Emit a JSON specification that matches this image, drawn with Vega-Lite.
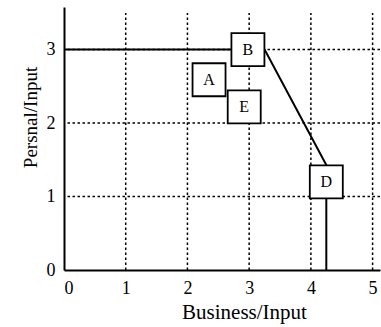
{
  "$schema": "https://vega.github.io/schema/vega-lite/v6.json",
  "width": 316,
  "height": 263,
  "autosize": {"type": "none"},
  "padding": {"left": 64, "top": 7, "right": 1, "bottom": 57},
  "background": "white",
  "config": {
    "view": {"stroke": null},
    "font": "Liberation Serif"
  },
  "datasets": {
    "vgrid": [{"x": 1}, {"x": 2}, {"x": 3}, {"x": 4}, {"x": 5}],
    "hgrid": [{"y": 1}, {"y": 2}, {"y": 3}],
    "frontier": [
      {"order": 1, "business": 0, "personal": 3},
      {"order": 2, "business": 3.25, "personal": 3},
      {"order": 3, "business": 4.25, "personal": 1.43},
      {"order": 4, "business": 4.25, "personal": 0}
    ],
    "units": [
      {"unit": "A", "business": 2.35, "personal": 2.59},
      {"unit": "B", "business": 2.98, "personal": 3.0},
      {"unit": "E", "business": 2.92, "personal": 2.22},
      {"unit": "D", "business": 4.25, "personal": 1.2}
    ]
  },
  "encoding": {},
  "layer": [
    {
      "data": {"name": "vgrid"},
      "mark": {"type": "rule", "color": "black", "strokeWidth": 1.5, "strokeDash": [2.5, 2.5]},
      "encoding": {
        "x": {"field": "x", "type": "quantitative", "scale": {"domain": [0, 5.12], "nice": false},
          "axis": {
            "title": "Business/Input",
            "values": [0, 1, 2, 3, 4, 5],
            "format": "d",
            "grid": false, "ticks": false,
            "domainColor": "black", "domainWidth": 2,
            "labelFontSize": 18, "labelColor": "black", "labelPadding": 9,
            "labelFont": "Liberation Serif",
            "titleFont": "Liberation Serif", "titleFontWeight": "normal",
            "titleFontSize": 21, "titleColor": "black", "titlePadding": 4,
            "titleX": 180
          }},
        "y": {"datum": 0, "type": "quantitative", "scale": {"domain": [0, 3.58], "nice": false},
          "axis": {
            "title": "Persnal/Input",
            "values": [0, 1, 2, 3],
            "format": "d",
            "grid": false, "ticks": false,
            "domainColor": "black", "domainWidth": 2,
            "labelFontSize": 18, "labelColor": "black", "labelPadding": 9,
            "labelFont": "Liberation Serif",
            "titleFont": "Liberation Serif", "titleFontWeight": "normal",
            "titleFontSize": 19, "titleColor": "black", "titlePadding": 6,
            "titleY": 110
          }},
        "y2": {"datum": 3.5}
      }
    },
    {
      "data": {"name": "hgrid"},
      "mark": {"type": "rule", "color": "black", "strokeWidth": 1.5, "strokeDash": [2.5, 2.5]},
      "encoding": {
        "y": {"field": "y", "type": "quantitative"}
      }
    },
    {
      "data": {"name": "frontier"},
      "mark": {"type": "line", "color": "black", "strokeWidth": 2},
      "encoding": {
        "x": {"field": "business", "type": "quantitative"},
        "y": {"field": "personal", "type": "quantitative"},
        "order": {"field": "order", "type": "quantitative"}
      }
    },
    {
      "data": {"name": "units"},
      "mark": {"type": "point", "shape": "square", "size": 1089, "filled": true, "fill": "white", "stroke": "black", "strokeWidth": 1.8, "opacity": 1},
      "encoding": {
        "x": {"field": "business", "type": "quantitative"},
        "y": {"field": "personal", "type": "quantitative"}
      }
    },
    {
      "data": {"name": "units"},
      "mark": {"type": "text", "fontSize": 16, "color": "black", "font": "Liberation Serif", "baseline": "middle", "align": "center"},
      "encoding": {
        "x": {"field": "business", "type": "quantitative"},
        "y": {"field": "personal", "type": "quantitative"},
        "text": {"field": "unit"}
      }
    }
  ]
}
